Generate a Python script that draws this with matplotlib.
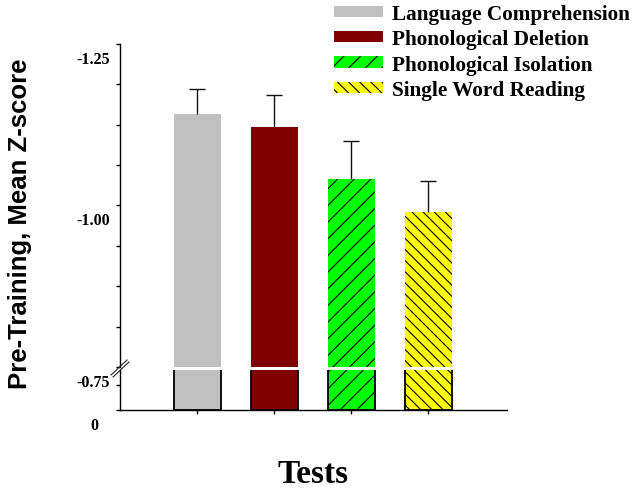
import matplotlib.pyplot as plt
import matplotlib.transforms as mtransforms
from matplotlib.patches import Patch
from matplotlib.lines import Line2D

tests = ['Language Comprehension', 'Phonological Deletion',
         'Phonological Isolation', 'Single Word Reading']
mean_z = [-1.141, -1.121, -1.041, -0.989]
sem_z = [0.039, 0.049, 0.059, 0.049]
colors = ['#c0c0c0', '#800000', '#00ff00', '#ffff00']
hatches = ['', '', '//', '\\\\\\']

upper_ticks = [-1.25, -1.00, -0.75]
upper_labels = ['-1.25', '-1.00', '-0.75']
upper_minor = [-1.1875, -1.125, -1.0625, -0.9375, -0.875, -0.8125]

plt.rcParams['hatch.linewidth'] = 0.8
serif = dict(family='Liberation Serif', weight='bold')

W, H = 635, 489
fig = plt.figure(figsize=(W / 100, H / 100), dpi=100)


def box(l, t, r, b):
    # pixel box (from top-left) -> figure fraction rect
    return [l / W, 1 - b / H, (r - l) / W, (b - t) / H]


ax = fig.add_axes(box(120, 44.7, 507, 368))
ax_lo = fig.add_axes(box(120, 371, 507, 410.5), sharex=ax)

x = list(range(len(tests)))
width = 0.61

for a, lw in ((ax, 0), (ax_lo, 1.3)):
    for i in x:
        a.bar(i, mean_z[i], width, color=colors[i], hatch=hatches[i],
              edgecolor='black', linewidth=lw)

# error bars, drawn one-sided (towards more negative scores)
tops = [m - s for m, s in zip(mean_z, sem_z)]
ax.vlines(x, mean_z, tops, color='#111111', lw=1)
ax.plot(x, tops, ls='none', marker='_', ms=12, mew=1, color='#111111')

ax.set_xlim(-1.0, 4.02)
ax.set_ylim(-0.75, -1.25)
ax_lo.set_ylim(0, -0.8)

for s in ('top', 'right', 'bottom'):
    ax.spines[s].set_visible(False)
for s in ('top', 'right'):
    ax_lo.spines[s].set_visible(False)
for a in (ax, ax_lo):
    a.spines['left'].set_linewidth(1)
ax_lo.spines['bottom'].set_linewidth(1)

ax.tick_params(axis='x', bottom=False, labelbottom=False)
ax.set_yticks(upper_ticks, labels=upper_labels)
ax.set_yticks(upper_minor, minor=True)
ax.tick_params(axis='y', which='both', length=3, width=1, pad=4.3)

ax_lo.set_xticks(x)
ax_lo.tick_params(axis='x', length=3, width=1, labelbottom=False)
ax_lo.set_yticks([0, -0.5], labels=['0', ''])
ax_lo.tick_params(axis='y', length=3, width=1, pad=4.3)

off = mtransforms.ScaledTranslation(0, -0.13, fig.dpi_scale_trans)
for lab in ax.get_yticklabels():
    lab.set_fontproperties(dict(serif, size=11.5))
    lab.set_transform(lab.get_transform() + off)
off0 = mtransforms.ScaledTranslation(-0.11, -0.135, fig.dpi_scale_trans)
for lab in ax_lo.get_yticklabels():
    lab.set_fontproperties(dict(serif, size=11.5))
    lab.set_transform(lab.get_transform() + off0)

# axis break marks
for dx, dy in ((0, 0), (2, 2)):
    fig.add_artist(Line2D([(111 + dx) / W, (127 + dx) / W],
                          [1 - (376 + dy) / H, 1 - (361 + dy) / H],
                          color='#222222', lw=0.8))

fig.text(20 / W, 1 - 223.5 / H, 'Pre-Training, Mean Z-score', rotation=90,
         ha='center', va='center', family='Liberation Sans', weight='bold',
         size=18.5)
fig.text(313 / W, 1 - 483.3 / H, 'Tests', ha='center', va='baseline',
         size=24, **serif)

handles = [Patch(facecolor=c, hatch=h, edgecolor='black', linewidth=0)
           for c, h in zip(colors, hatches)]
fig.legend(handles, tests, loc='upper left', bbox_to_anchor=(334 / W, 1 - 5 / H),
           frameon=False, prop=dict(serif, size=15.3), handlelength=2.3,
           handleheight=0.43, handletextpad=0.45, labelspacing=0.25,
           borderpad=0, borderaxespad=0)

fig.savefig('out.png', dpi=100)
